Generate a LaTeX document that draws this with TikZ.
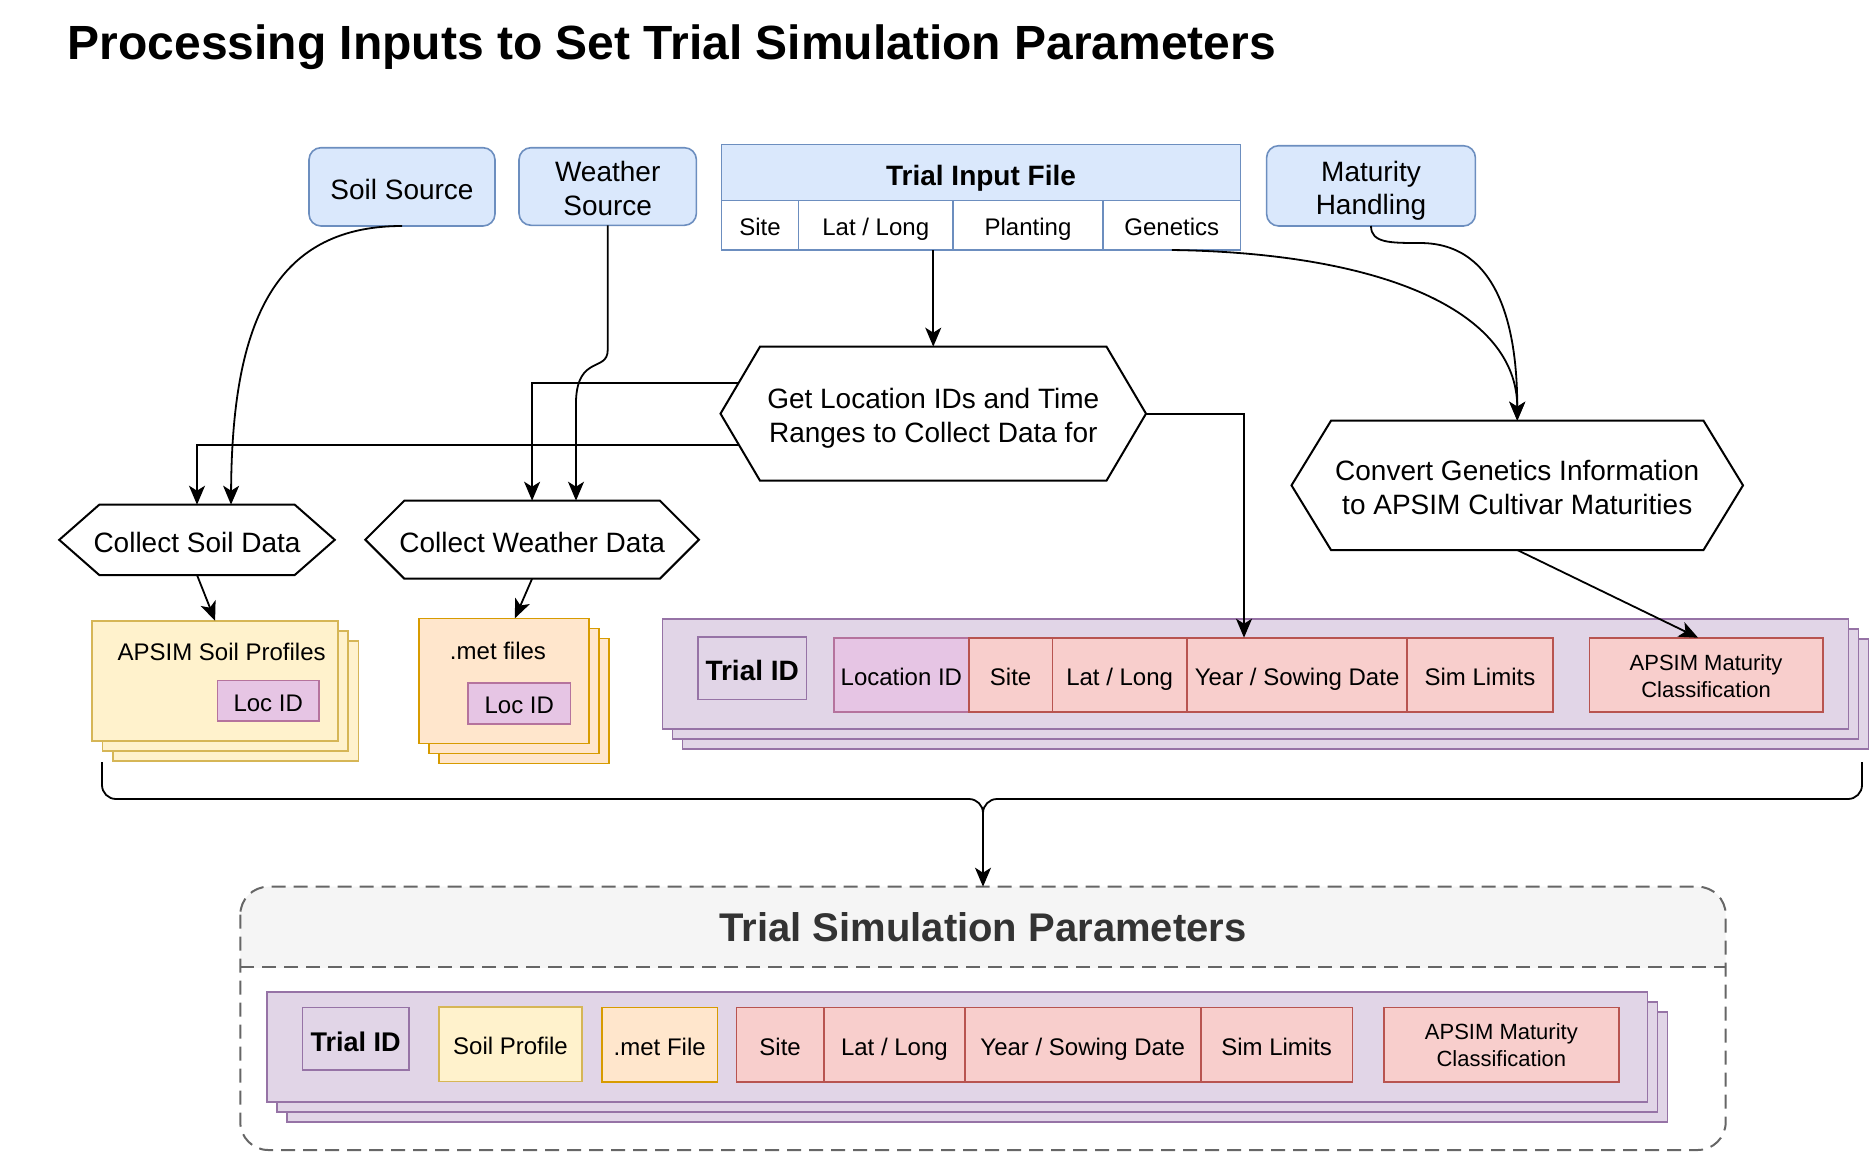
\documentclass[tikz,border=0pt]{standalone}
\usepackage{fontspec}
\setmainfont{Liberation Sans}
\usetikzlibrary{arrows.meta,calc}
\definecolor{bluef}{HTML}{DAE8FC}\definecolor{blued}{HTML}{6C8EBF}
\definecolor{yelf}{HTML}{FFF2CC}\definecolor{yeld}{HTML}{D6B656}
\definecolor{oraf}{HTML}{FFE6CC}\definecolor{orad}{HTML}{D79B00}
\definecolor{purf}{HTML}{E1D5E7}\definecolor{purd}{HTML}{9673A6}
\definecolor{redf}{HTML}{F8CECC}\definecolor{redd}{HTML}{B85450}
\definecolor{pinf}{HTML}{E6C5E4}\definecolor{pind}{HTML}{B5739D}
\definecolor{grayf}{HTML}{F5F5F5}\definecolor{grayd}{HTML}{666666}
\definecolor{txtg}{HTML}{333333}
\newcommand\drawhex[2]{\draw[hexline] (#1.west) -- ($(#1.north west)+(#2,0)$) -- ($(#1.north east)+(-#2,0)$) -- (#1.east) -- ($(#1.south east)+(-#2,0)$) -- ($(#1.south west)+(#2,0)$) -- cycle;}
\newcommand\strutTA{\rule{0pt}{31pt}}
\newcommand\strutTB{\rule[-7pt]{0pt}{7pt}}
\newcommand\strutSA{\rule{0pt}{23.6pt}}
\newcommand\strutSB{\rule[-5.5pt]{0pt}{5.5pt}}
\begin{document}
\begin{tikzpicture}[x=1pt,y=-1pt,
  f28/.style={font=\fontsize{28}{33.6}\selectfont, execute at begin node={\rule{0pt}{32pt}}, execute at end node={\rule[-7pt]{0pt}{7pt}}},
  f28m/.style={font=\fontsize{28}{33.6}\selectfont},
  f24/.style={font=\fontsize{24}{28.8}\selectfont, execute at begin node={\rule{0pt}{26.8pt}}, execute at end node={\rule[-6pt]{0pt}{6pt}}},
  f22m/.style={font=\fontsize{22}{27}\selectfont, execute at begin node={}, execute at end node={}},
  wh/.style 2 args={minimum width=#1pt,minimum height=#2pt},
  box/.style={draw, line width=1.6pt, inner sep=0pt, outer sep=0pt, align=center},
  src/.style={box, fill=bluef, draw=blued, rounded corners=12pt, f28},
  tcell/.style={box, fill=white, draw=blued, f24},
  hexnode/.style={inner sep=0pt, outer sep=0pt, align=center, f28},
  hexline/.style={draw=black, line width=2pt, line join=miter},
  ylw/.style={box, fill=yelf, draw=yeld},
  org/.style={box, fill=oraf, draw=orad},
  prp/.style={box, fill=purf, draw=purd},
  rcell/.style={box, fill=redf, draw=redd, f24},
  pcell/.style={box, fill=pinf, draw=pind, f24},
  conn/.style={line width=1.8pt, draw=black},
  arr/.style={conn, -{Stealth[length=19pt,width=16pt,inset=5pt]}},
  dashline/.style={draw=grayd, line width=2pt, dash pattern=on 14pt off 8pt}
]
\useasboundingbox (0,0) rectangle (1870,1152);

% title
\node[anchor=base west, inner sep=0pt, font=\fontsize{48}{57.6}\selectfont\bfseries] (title) at (67.5,59.3) {Processing Inputs to Set Trial Simulation Parameters};

% sources
\node[src, wh={186}{78.3}] (soilsrc) at (402,186.85) {Soil Source};
\node[box, fill=bluef, draw=blued, rounded corners=12pt, f28m, wh={177.4}{77.6}] (wsrc) at (607.7,186.5) {\strutTA Weather\\Source\strutTB};
\node[box, fill=bluef, draw=blued, rounded corners=12pt, f28m, wh={208.8}{80.3}] (mat) at (1371,185.85) {\strutTA Maturity\\Handling\strutTB};

% trial input file table
\node[box, fill=bluef, draw=blued, wh={519}{56}, f28, font=\fontsize{28}{33.6}\selectfont\bfseries] (tifh) at (981,172.5) {Trial Input File};
\node[tcell, wh={77}{49.5}] (tsite) at (760,225.25) {Site};
\node[tcell, wh={154.5}{49.5}] (tll) at (875.75,225.25) {Lat / Long};
\node[tcell, wh={150}{49.5}] (tplant) at (1028,225.25) {Planting};
\node[tcell, wh={137.5}{49.5}] (gen) at (1171.75,225.25) {Genetics};

% hexagons
\node[inner sep=0pt, outer sep=0pt, align=center, f28m, wh={425.5}{134}] (loc) at (933.25,413.65) {\strutTA Get Location IDs and Time\\Ranges to Collect Data for\strutTB};
\drawhex{loc}{39.5}
\node[inner sep=0pt, outer sep=0pt, align=center, f28m, wh={451.5}{129.3}] (conv) at (1517.25,485.35) {\strutTA Convert Genetics Information\\to APSIM Cultivar Maturities\strutTB};
\drawhex{conv}{39.5}
\node[hexnode, wh={275.5}{70.3}] (csoil) at (197,539.85) {Collect Soil Data};
\drawhex{csoil}{40}
\node[hexnode, wh={333.6}{78}] (cweather) at (532.1,539.7) {Collect Weather Data};
\drawhex{cweather}{39}

% soil stack
\draw[ylw] (112.7,641) rectangle (358.4,761);
\draw[ylw] (102.4,631) rectangle (348,751);
\node[ylw, wh={245.8}{120.3}] (sp) at (215.1,680.85) {};
\node[font=\fontsize{24}{28.8}\selectfont, inner sep=0pt] (sptxt) at (221.6,651.7) {APSIM Soil Profiles};
\node[pcell, wh={101.2}{40.7}] (sploc) at (268.2,700.65) {Loc ID};

% met stack
\draw[org] (438.8,638.3) rectangle (609,763.3);
\draw[org] (428.8,628.3) rectangle (599,753.3);
\node[org, wh={170.2}{125}] (met) at (503.9,680.8) {};
\node[font=\fontsize{24}{28.8}\selectfont, inner sep=0pt] (mettxt) at (498,651) {.met files};
\node[pcell, wh={102.6}{41}] (metloc) at (519.3,703.5) {Loc ID};

% upper trial stack
\draw[prp] (682.5,638.7) rectangle (1868.4,749);
\draw[prp] (672.5,628.7) rectangle (1858.4,739);
\node[prp, wh={1185.9}{110.3}] (ts1) at (1255.45,673.85) {};
\node[prp, wh={108.4}{62.6}, f28, font=\fontsize{28}{33.6}\selectfont\bfseries] (tid1) at (752.2,668) {Trial ID};
\node[pcell, wh={135.3}{74.3}] (locid) at (901.35,674.85) {Location ID};
\node[rcell, wh={83.3}{74.3}] (site1) at (1010.65,674.85) {Site};
\node[rcell, wh={134.7}{74.3}] (ll1) at (1119.65,674.85) {Lat / Long};
\node[rcell, wh={220.2}{74.3}] (yr1) at (1297.1,674.85) {Year / Sowing Date};
\node[rcell, wh={145.5}{74.3}] (sl1) at (1479.95,674.85) {Sim Limits};
\node[rcell, wh={233.5}{74.3}, f22m] (amc1) at (1706.05,674.85) {\strutSA APSIM Maturity\\Classification\strutSB};

% container
\node[fill=white, rounded corners=28pt, wh={1485.4}{263.3}, inner sep=0pt, outer sep=0pt] (tsp) at (983,1018.35) {};
\begin{scope}
\clip (230,880) rectangle (1740,967.3);
\fill[grayf, rounded corners=28pt] (tsp.north west) rectangle (tsp.south east);
\end{scope}
\draw[dashline, rounded corners=28pt] (tsp.north west) rectangle (tsp.south east);
\draw[dashline] (tsp.west |- 0,967.3) -- (tsp.east |- 0,967.3);
\node[inner sep=0pt, text=txtg, font=\fontsize{40}{48}\selectfont\bfseries] (tsptitle) at (983,926.7) {Trial Simulation Parameters};

% lower trial stack
\draw[prp] (286.7,1011.7) rectangle (1667.6,1121.7);
\draw[prp] (276.7,1001.7) rectangle (1657.6,1111.7);
\node[prp, wh={1380.9}{110}] (ts2) at (957.15,1046.7) {};
\node[prp, wh={106.7}{62.7}, f28, font=\fontsize{27}{32}\selectfont\bfseries] (tid2) at (355.65,1038.65) {Trial ID};
\node[ylw, wh={143}{74.6}, f24] (spf) at (510.5,1044) {Soil Profile};
\node[org, wh={115.4}{74.7}, f24] (mf) at (659.7,1044.65) {.met File};
\node[rcell, wh={87.7}{74.7}] (site2) at (780.15,1044.65) {Site};
\node[rcell, wh={140.8}{74.7}] (ll2) at (894.4,1044.65) {Lat / Long};
\node[rcell, wh={235.9}{74.7}] (yr2) at (1082.75,1044.65) {Year / Sowing Date};
\node[rcell, wh={151.8}{74.7}] (sl2) at (1276.6,1044.65) {Sim Limits};
\node[rcell, wh={234.7}{74.7}, f22m] (amc2) at (1501.35,1044.65) {\strutSA APSIM Maturity\\Classification\strutSB};

% connectors
\coordinate (locL1) at ($(loc.west)+(17.9,-30.35)$);
\coordinate (locL2) at ($(loc.west)+(18.3,31.1)$);
\draw[arr] (locL1) -| (cweather.north);
\draw[arr] (locL2) -| (csoil.north);
\draw[arr] (soilsrc.south) .. controls +(-132,0) and +(1,-175) .. ($(csoil.north)+(34,0)$);
\draw[arr] (wsrc.south) -- ++(0,124.7) .. controls +(0,22) and +(2,-45) .. ($(cweather.north)+(43.9,-100.7)$) -- ($(cweather.north)+(43.9,0)$);
\draw[arr] (tll.south -| loc.north) -- (loc.north);
\draw[arr] (loc.east) -| ($(yr1.north west)+(57,0)$);
\draw[arr] (gen.south) .. controls +(210,3) and +(0,-110) .. (conv.north);
\coordinate (matbend) at (1420,243);
\draw[arr] (mat.south) .. controls +(0,17) and +(-30,0) .. (matbend) .. controls +(80,0) and +(0,-90) .. (conv.north);
\draw[arr] (conv.south) -- ($(amc1.north)+(-8,0)$);
\draw[arr] (csoil.south) -- (sp.north);
\draw[arr] (cweather.south) -- ($(met.north)+(11,0)$);

% brace
\coordinate (braceL) at (102,762);
\coordinate (braceR) at (1862,762);
\coordinate (bracetip) at (983,816);
\draw[conn, rounded corners=14pt] (braceL) -- (102,799) -- (983,799) -- (bracetip);
\draw[conn, rounded corners=14pt] (braceR) -- (1862,799) -- (983,799) -- (bracetip);
\draw[arr] (bracetip) -- (tsp.north);
\end{tikzpicture}
\end{document}
